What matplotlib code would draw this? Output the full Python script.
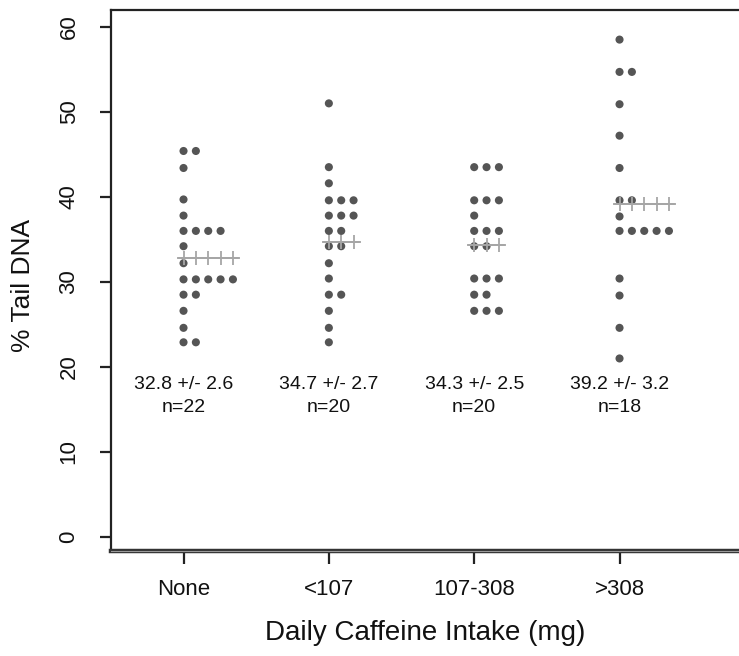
import matplotlib
matplotlib.use('Agg')
import matplotlib.pyplot as plt
import numpy as np

plt.rcParams['font.family'] = ['Liberation Sans', 'DejaVu Sans']

categories = ['None', '<107', '107-308', '>308']
none_vals = [45.4, 45.4, 43.4, 39.7, 37.8, 36.0, 36.0, 36.0, 36.0, 34.2, 32.2,
             30.3, 30.3, 30.3, 30.3, 30.3, 28.5, 28.5, 26.6, 24.6, 22.9, 22.9]
lt107_vals = [51.0, 43.5, 41.6, 39.6, 39.6, 39.6, 37.8, 37.8, 37.8, 36.0, 36.0,
              34.2, 34.2, 32.2, 30.4, 28.5, 28.5, 26.6, 24.6, 22.9]
mid_vals = [43.5, 43.5, 43.5, 39.6, 39.6, 39.6, 37.8, 36.0, 36.0, 36.0, 34.2,
            34.2, 30.4, 30.4, 30.4, 28.5, 28.5, 26.6, 26.6, 26.6]
gt308_vals = [58.5, 54.7, 54.7, 50.9, 47.2, 43.4, 39.6, 39.6, 37.7, 36.0, 36.0,
              36.0, 36.0, 36.0, 30.4, 28.4, 24.6, 21.0]
means = [32.8, 34.7, 34.3, 39.2]
sems = [2.6, 2.7, 2.5, 3.2]
ns = [22, 20, 20, 18]
mean_marks = [5, 3, 3, 5]

groups = [none_vals, lt107_vals, mid_vals, gt308_vals]

fig = plt.figure(figsize=(7.39, 6.56), dpi=100)
ax = fig.add_axes([0.150, 0.160, 0.850, 0.825])

step = 0.085
dot_color = '#555555'
plus_color = '#a6a6a6'

for i, vals in enumerate(groups):
    pos = i + 1
    uniq, counts = np.unique(np.array(vals), return_counts=True)
    xs, ys = [], []
    for u, c in zip(uniq, counts):
        for k in range(c):
            xs.append(pos + k * step)
            ys.append(u)
    ax.scatter(xs, ys, s=34, color=dot_color, edgecolors='none', zorder=3)
    px = [pos + k * step for k in range(mean_marks[i])]
    ax.plot([px[0] - step * 0.4, px[-1] + step * 0.4], [means[i]] * 2,
            color=plus_color, lw=1.3, zorder=4)
    ax.scatter(px, [means[i]] * len(px), marker='+', s=100, color=plus_color,
               linewidths=1.3, zorder=4)
    ax.text(pos, 17.95, f"{means[i]} +/- {sems[i]}", ha='center', va='center',
            fontsize=14, color='#111111')
    ax.text(pos, 15.25, f"n={ns[i]}", ha='center', va='center',
            fontsize=14, color='#111111')

ylo, yhi = -1.65, 62
ax.set_xlim(0.5, 4.822)
ax.set_ylim(ylo, yhi)
ax.set_xticks(range(1, 5))
ax.set_xticklabels(categories)
ax.set_yticks([0, 10, 20, 30, 40, 50, 60])

ax.spines['right'].set_visible(False)
for side in ['left', 'top']:
    ax.spines[side].set_linewidth(1.6)
    ax.spines[side].set_color('#222222')
ax.spines['bottom'].set_linewidth(3.2)
ax.spines['bottom'].set_color('#333333')
ax.axhline(ylo, color='#9a9a9a', lw=0.8, clip_on=False, zorder=5)

ax.tick_params(axis='x', length=9, width=1.6, color='#222222', pad=11,
               labelsize=16, labelcolor='#111111')
ax.tick_params(axis='y', length=8, width=1.6, color='#222222', pad=14.5,
               labelsize=16, labelcolor='#111111', labelrotation=90)
for lab in ax.get_yticklabels():
    lab.set_va('center')

ax.set_xlabel('Daily Caffeine Intake (mg)', fontsize=20, color='#111111')
ax.set_ylabel('% Tail DNA', fontsize=19, color='#111111')
ax.xaxis.set_label_coords(0.5, -0.128)
ax.yaxis.set_label_coords(-0.12, 0.49)

fig.savefig('out.png', dpi=100)
